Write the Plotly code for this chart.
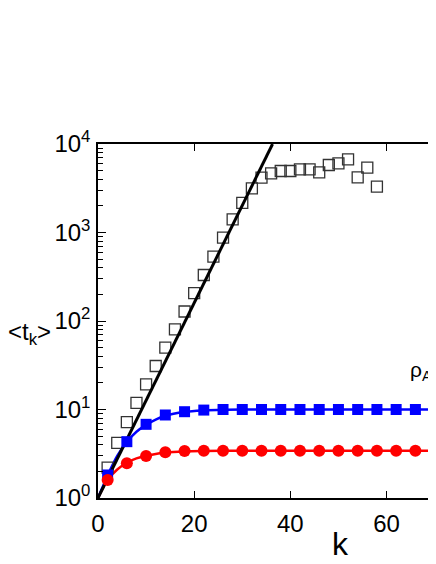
# -*- coding: utf-8 -*-

import plotly.graph_objs as go

# open squares
k_open = list(range(2, 60, 2))
t_open = [
    2.2, 4.2, 7.2, 11.9, 19.2, 31.0, 49.9, 80.5, 128, 206,
    331, 533, 874, 1408, 2167, 3155, 4160, 4667, 4955, 4955,
    5176, 5176, 4786, 5794, 6053, 6714, 4204, 5395, 3296,
]

# filled markers (blue squares, red circles)
k_filled = list(range(2, 71, 4))
t_blue = [1.82, 4.33, 6.8, 8.67, 9.44, 9.85] + [10.0] * 12
t_red = [1.6, 2.47, 2.98, 3.28, 3.4] + [3.42] * 13

# fitted curves
k_fit = [0, 2, 4, 6, 8, 10, 12, 14, 18, 22, 26, 30, 40, 50, 60, 72]
t_blue_fit = [1.0, 1.8, 3.0, 4.3, 5.6, 6.7, 7.7, 8.5, 9.35, 9.75, 9.93, 10.0, 10.0, 10.0, 10.0, 10.0]
t_red_fit = [1.0, 1.6, 2.1, 2.5, 2.8, 3.0, 3.15, 3.26, 3.36, 3.4, 3.42, 3.42, 3.42, 3.42, 3.42, 3.42]

# straight line (exponential growth)
k_line = [0, 36.3]
t_line = [1.0, 10000.0]

y_tickvals = [1, 10, 100, 1000, 10000]
y_ticktext = ["10<sup>0</sup>", "10<sup>1</sup>", "10<sup>2</sup>", "10<sup>3</sup>", "10<sup>4</sup>"]
y_minor = [m * 10 ** e for e in range(4) for m in range(2, 10)]

FONT = "Liberation Sans, Arial, sans-serif"

fig = go.Figure()

fig.add_trace(go.Scatter(
    x=k_fit, y=t_red_fit, mode="lines",
    line={"color": "#ff0000", "width": 2.5, "shape": "spline"},
))
fig.add_trace(go.Scatter(
    x=k_fit, y=t_blue_fit, mode="lines",
    line={"color": "#0000ff", "width": 2.5, "shape": "spline"},
))
fig.add_trace(go.Scatter(
    x=k_open, y=t_open, mode="markers",
    marker={"symbol": "square-open", "size": 11, "color": "#333333", "line": {"width": 1.3}},
))
fig.add_trace(go.Scatter(
    x=k_line, y=t_line, mode="lines",
    line={"color": "black", "width": 3},
))
fig.add_trace(go.Scatter(
    x=k_filled, y=t_blue, mode="markers",
    marker={"symbol": "square", "size": 11, "color": "#0000ff"},
))
fig.add_trace(go.Scatter(
    x=k_filled, y=t_red, mode="markers",
    marker={"symbol": "circle", "size": 12, "color": "#ff0000"},
))

fig.add_annotation(
    text="&lt;t<sub>k</sub>&gt;", x=-0.262, y=0.466, xref="paper", yref="paper",
    xanchor="left", yanchor="middle", showarrow=False, borderpad=0,
    font={"size": 24, "color": "black", "family": FONT},
)
fig.add_annotation(
    text="k", x=0.701, y=-0.13, xref="paper", yref="paper",
    xanchor="center", yanchor="middle", showarrow=False,
    font={"size": 32, "color": "black", "family": FONT},
)
fig.add_annotation(
    text="ρ<sub>A</sub>", x=0.934, y=0.359, xref="paper", yref="paper",
    xanchor="center", yanchor="middle", showarrow=False,
    font={"size": 21, "color": "black", "family": FONT},
)

fig.update_layout(
    width=436,
    height=564,
    margin=dict(l=90, r=0, t=136, b=74),
    paper_bgcolor="white",
    plot_bgcolor="white",
    showlegend=False,
    font={"family": FONT, "size": 24, "color": "black"},
    xaxis={
        "range": [0, 71.95],
        "tickvals": [0, 20, 40, 60],
        "ticks": "inside",
        "ticklen": 7,
        "tickwidth": 1.3,
        "tickcolor": "black",
        "ticklabelstandoff": 3,
        "showline": True,
        "linecolor": "black",
        "linewidth": 1.5,
        "mirror": "ticks",
        "showgrid": False,
        "zeroline": False,
        "tickfont": {"size": 24},
    },
    yaxis={
        "type": "log",
        "range": [0, 4],
        "tickmode": "array",
        "tickvals": y_tickvals,
        "ticktext": y_ticktext,
        "ticks": "inside",
        "ticklen": 8,
        "tickwidth": 1.3,
        "tickcolor": "black",
        "ticklabelstandoff": 1,
        "minor": {
            "tickmode": "array",
            "tickvals": y_minor,
            "ticks": "inside",
            "ticklen": 5,
            "tickwidth": 1.1,
            "tickcolor": "black",
            "showgrid": False,
        },
        "showline": True,
        "linecolor": "black",
        "linewidth": 1.5,
        "showgrid": False,
        "zeroline": False,
        "tickfont": {"size": 24},
    },
)

fig.write_html("out.html")
